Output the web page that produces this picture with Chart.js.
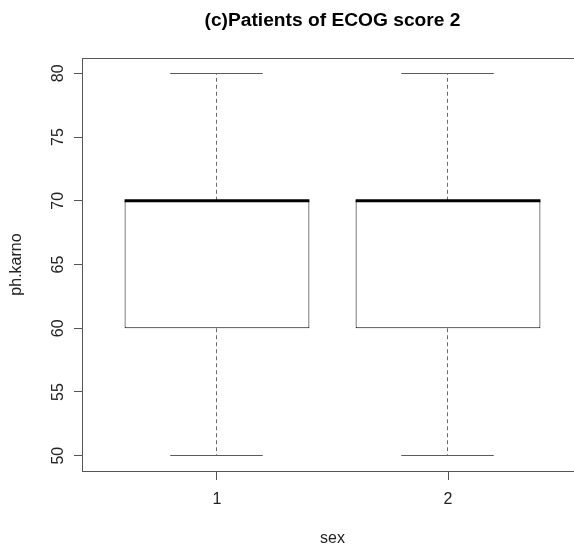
<!DOCTYPE html>
<html><head><meta charset="utf-8">
<script src="https://cdn.jsdelivr.net/npm/chart.js@4"></script>
<style>
html,body{margin:0;padding:0;background:#fff;overflow:hidden;width:574px;height:546px}
#clip{position:relative;width:574px;height:546px;overflow:hidden}
#wrap{position:absolute;left:0;top:0;width:600px;height:546px}
</style>
</head><body><div id="clip"><div id="wrap"><canvas id="c" width="600" height="546"></canvas></div></div>
<script>
const chartTitle = '(c)Patients of ECOG score 2';
const xAxisTitle = 'sex';
const yAxisTitle = 'ph.karno';
const categories = ['1', '2'];
const groupPositions = [1, 2];
const lowerWhisker = [50, 50];
const lowerQuartile = [60, 60];
const medians = [70, 70];
const upperQuartile = [70, 70];
const upperWhisker = [80, 80];
const yTickValues = [50, 55, 60, 65, 70, 75, 80];
const yTickLabels = ['50', '55', '60', '65', '70', '75', '80'];

const FONT = '"Liberation Sans", Arial, sans-serif';
Chart.defaults.font.family = FONT;

const boxPlugin = {
  id: 'boxExtras',
  afterDatasetsDraw(chart) {
    const ctx = chart.ctx, xs = chart.scales.x, ys = chart.scales.y;
    const meta = chart.getDatasetMeta(0);
    const snap = v => Math.floor(v) + 0.5;
    ctx.save();
    groupPositions.forEach((pos, i) => {
      const bar = meta.data[i];
      const cx = snap(xs.getPixelForValue(pos) - 0.5);
      const w = bar.width;
      // dashed whiskers
      ctx.strokeStyle = '#6a6a6a'; ctx.lineWidth = 1; ctx.setLineDash([4, 3]);
      ctx.beginPath();
      ctx.moveTo(cx, ys.getPixelForValue(upperQuartile[i]));
      ctx.lineTo(cx, ys.getPixelForValue(upperWhisker[i]));
      ctx.moveTo(cx, ys.getPixelForValue(lowerQuartile[i]));
      ctx.lineTo(cx, ys.getPixelForValue(lowerWhisker[i]));
      ctx.stroke();
      ctx.setLineDash([]);
      // staples
      ctx.strokeStyle = '#5a5a5a';
      ctx.beginPath();
      [upperWhisker[i], lowerWhisker[i]].forEach(v => {
        const y = snap(ys.getPixelForValue(v));
        ctx.moveTo(cx - w / 4, y); ctx.lineTo(cx + w / 4, y);
      });
      ctx.stroke();
      // median
      ctx.strokeStyle = '#000'; ctx.lineWidth = 3;
      ctx.beginPath();
      const my = ys.getPixelForValue(medians[i]);
      ctx.moveTo(bar.x - w / 2, my); ctx.lineTo(bar.x + w / 2, my);
      ctx.stroke();
    });
    // plot frame
    const a = chart.chartArea;
    ctx.strokeStyle = '#555'; ctx.lineWidth = 1;
    ctx.strokeRect(Math.floor(a.left) - 0.5, Math.floor(a.top) + 0.5,
      Math.floor(a.right) - Math.floor(a.left), Math.floor(a.bottom) - Math.floor(a.top));
    // rotated y tick labels
    ctx.fillStyle = '#222';
    ctx.font = '16px ' + FONT;
    ctx.textAlign = 'center';
    ctx.textBaseline = 'alphabetic';
    yTickValues.forEach((v, i) => {
      ctx.save();
      ctx.translate(a.left - 20, ys.getPixelForValue(v));
      ctx.rotate(-Math.PI / 2);
      ctx.fillText(yTickLabels[i], 0, 0);
      ctx.restore();
    });
    ctx.restore();
  }
};

new Chart(document.getElementById('c'), {
  type: 'bar',
  data: {
    datasets: [{
      data: groupPositions.map((x, i) => ({ x: x, y: [lowerQuartile[i], upperQuartile[i]] })),
      backgroundColor: '#fff',
      borderColor: '#000',
      borderWidth: 1,
      borderSkipped: false,
      inflateAmount: 0,
      barPercentage: 0.8,
      categoryPercentage: 1
    }]
  },
  options: {
    responsive: false,
    devicePixelRatio: 1,
    animation: false,
    layout: { padding: { left: 0, right: 18, top: 0, bottom: 0 } },
    plugins: {
      legend: { display: false },
      tooltip: { enabled: false },
      title: {
        display: true,
        text: chartTitle,
        fullSize: false,
        color: '#000',
        font: { family: FONT, size: 19.2, weight: 'bold', lineHeight: 1.2 },
        padding: { top: 9, bottom: 26 }
      }
    },
    scales: {
      x: {
        type: 'linear',
        min: 0.42,
        max: 2.58,
        offset: false,
        afterBuildTicks: s => { s.ticks = groupPositions.map(v => ({ value: v })); },
        afterFit: s => { s.height = 75; },
        grid: { display: true, offset: false, drawOnChartArea: false, drawTicks: true, tickLength: 9, tickColor: '#555', lineWidth: 1 },
        border: { display: false },
        ticks: {
          autoSkip: false, maxRotation: 0, padding: 10, color: '#222',
          font: { size: 16 },
          callback: (v, i) => categories[i]
        },
        title: { display: true, text: xAxisTitle, color: '#222', font: { size: 16 }, padding: { top: 0, bottom: -2 } }
      },
      y: {
        type: 'linear',
        min: 48.8,
        max: 81.2,
        afterBuildTicks: s => { s.ticks = yTickValues.map(v => ({ value: v })); },
        afterFit: s => { s.width = 83; },
        grid: { display: true, drawOnChartArea: false, drawTicks: true, tickLength: 9, tickColor: '#555', lineWidth: 1 },
        border: { display: false },
        ticks: { display: false },
        title: { display: true, text: yAxisTitle, color: '#222', font: { size: 16 }, padding: { top: 7, bottom: 0 } }
      }
    }
  },
  plugins: [boxPlugin]
});
</script></body></html>
